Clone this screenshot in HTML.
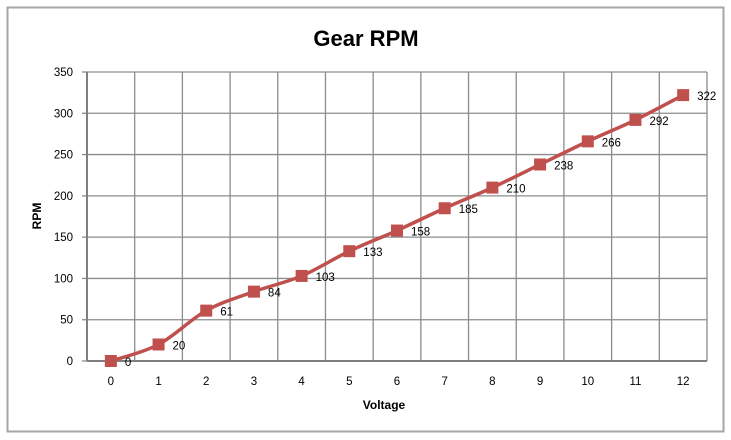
<!DOCTYPE html>
<html><head><meta charset="utf-8"><style>
html,body{margin:0;padding:0;background:#fff;}
svg{display:block;font-family:"Liberation Sans","DejaVu Sans",sans-serif;}
</style></head><body>
<svg id="chart" width="731" height="440">
<rect x="7.5" y="7.5" width="716" height="424" fill="#fff" stroke="#a6a6a6" stroke-width="2"/>
<text x="366" y="46" text-anchor="middle" font-size="22" font-weight="bold" fill="#000">Gear RPM</text>
<g id="grid"></g><g id="axes"></g><g id="series"></g>
<text x="384" y="409" text-anchor="middle" font-size="12" font-weight="bold">Voltage</text>
<text transform="translate(41,216) rotate(-90)" text-anchor="middle" font-size="12" font-weight="bold">RPM</text>
</svg>
<script>
const categories=[0,1,2,3,4,5,6,7,8,9,10,11,12];
const rpmValues=[0,20,61,84,103,133,158,185,210,238,266,292,322];
const yTicks=[0,50,100,150,200,250,300,350];
const NS="http://www.w3.org/2000/svg";
const L=87,R=707,T=72,B=361,yMax=350;
const band=(R-L)/categories.length;
const xs=i=>L+band*(i+0.5);
const ys=v=>B-(v/yMax)*(B-T);
function mk(tag,attrs,parent){const e=document.createElementNS(NS,tag);for(const k in attrs)e.setAttribute(k,attrs[k]);parent.appendChild(e);return e;}
const grid=document.getElementById('grid'),axes=document.getElementById('axes'),series=document.getElementById('series');
yTicks.forEach(t=>{
 const y=ys(t);
 const ln=mk('line',{x1:L,x2:R,y1:y,y2:y,stroke:'#8c8c8c','stroke-width':1.3},grid);
 
 
 mk('line',{x1:L-5,x2:L,y1:y,y2:y,stroke:'#8c8c8c','stroke-width':1.3},axes);
 const tx=mk('text',{x:L-14,y:y+4,'text-anchor':'end','font-size':11.5,fill:'#000'},axes);
 tx.textContent=t;
 
 
});
for(let i=0;i<=categories.length;i++){
 const x=L+band*i;
 const ln=mk('line',{x1:x,x2:x,y1:T,y2:B+(i===0?0:0),stroke:'#8c8c8c','stroke-width':1.3},grid);
 
 
}
const xa=mk('line',{x1:L,x2:R,y1:B,y2:B,stroke:'#7f7f7f','stroke-width':2},axes);


const ya=mk('line',{x1:L,x2:L,y1:T,y2:B,stroke:'#7f7f7f','stroke-width':2},axes);


categories.forEach((c,i)=>{
 const tx=mk('text',{x:xs(i),y:385,'text-anchor':'middle','font-size':11.5,fill:'#000'},axes);
 tx.textContent=c;
 
 
});
const pts=rpmValues.map((v,i)=>[xs(i),ys(v)]);
let d='M'+pts[0][0]+','+pts[0][1];
for(let i=0;i<pts.length-1;i++){
 const p0=pts[Math.max(i-1,0)],p1=pts[i],p2=pts[i+1],p3=pts[Math.min(i+2,pts.length-1)];
 const k=1/6;
 d+=' C'+(p1[0]+(p2[0]-p0[0])*k)+','+(p1[1]+(p2[1]-p0[1])*k)+' '+(p2[0]-(p3[0]-p1[0])*k)+','+(p2[1]-(p3[1]-p1[1])*k)+' '+p2[0]+','+p2[1];
}
const line=mk('path',{d:d,fill:'none',stroke:'#c0504d','stroke-width':3.5},series);


rpmValues.forEach((v,i)=>{
 const m=mk('rect',{x:xs(i)-6,y:ys(v)-6,width:12,height:12,fill:'#c0504d'},series);
 
 
 const t=mk('text',{x:xs(i)+14,y:ys(v)+5,'font-size':11.5,fill:'#000'},series);
 t.textContent=v;
 
 
});
</script>
</body></html>
